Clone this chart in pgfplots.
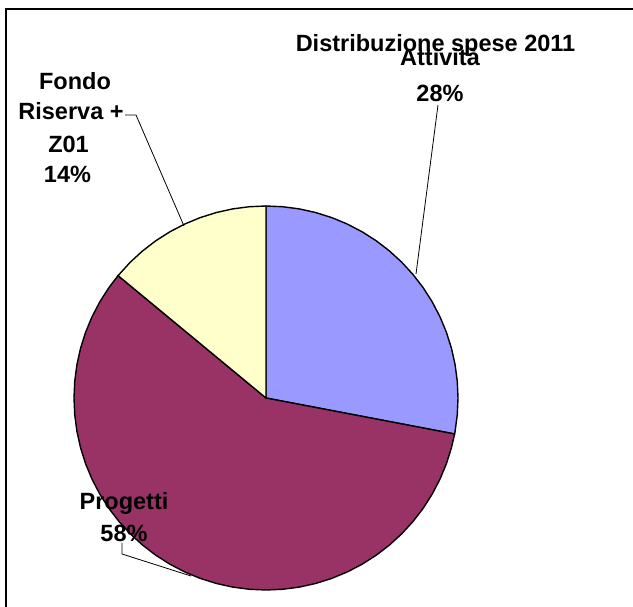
\documentclass[border=0pt]{standalone}
\usepackage{pgfplots}
\pgfplotsset{compat=1.18}
\usepackage{fontspec}
\setmainfont{Liberation Sans}
\definecolor{att}{HTML}{9999FF}
\definecolor{prog}{HTML}{993366}
\definecolor{fondo}{HTML}{FFFFCC}
\tikzset{lbl/.style={font=\fontsize{23.5bp}{28bp}\selectfont\bfseries, inner sep=0pt, anchor=base}}
\begin{document}
\begin{tikzpicture}
\useasboundingbox (0,0) rectangle (633bp,607bp);
\begin{axis}[
  at={(0,0)}, anchor=south west,
  scale only axis, width=633bp, height=607bp,
  xmin=-266, xmax=367, ymin=-209, ymax=398,
  hide axis, clip=false,
]
% Attivita 28%
\addplot[data cs=polar, fill=att, draw=black, line width=1.4bp] coordinates {
(0,0) (90,192) (85,192) (80,192) (75,192) (70,192) (65,192) (60,192) (55,192)
(50,192) (45,192) (40,192) (35,192) (30,192) (25,192) (20,192) (15,192) (10,192)
(5,192) (0,192) (-5,192) (-10,192) (-10.8,192)} -- cycle;
% Progetti 58%
\addplot[data cs=polar, fill=prog, draw=black, line width=1.4bp] coordinates {
(0,0) (-10.8,192) (-15,192) (-20,192) (-25,192) (-30,192) (-35,192) (-40,192)
(-45,192) (-50,192) (-55,192) (-60,192) (-65,192) (-70,192) (-75,192) (-80,192)
(-85,192) (-90,192) (-95,192) (-100,192) (-105,192) (-110,192) (-115,192)
(-120,192) (-125,192) (-130,192) (-135,192) (-140,192) (-145,192) (-150,192)
(-155,192) (-160,192) (-165,192) (-170,192) (-175,192) (-180,192) (-185,192)
(-190,192) (-195,192) (-200,192) (-205,192) (-210,192) (-215,192) (-219.6,192)} -- cycle;
% Fondo Riserva + Z01 14%
\addplot[data cs=polar, fill=fondo, draw=black, line width=1.4bp] coordinates {
(0,0) (140.4,192) (135,192) (130,192) (125,192) (120,192) (115,192) (110,192)
(105,192) (100,192) (95,192) (90,192)} -- cycle;
% leader lines
\addplot[black, line width=0.8bp] coordinates {(-141,283) (-130,283) (-82,172)};
\addplot[black, line width=0.8bp] coordinates {(172,293) (150,124)};
\addplot[black, line width=0.8bp] coordinates {(-144,-145) (-144,-156) (-75,-178)};
% labels
\node[lbl] at (axis cs:169.5,346) {Distribuzione spese 2011};
\node[lbl] at (axis cs:174,332) {Attività};
\node[lbl] at (axis cs:174,296) {28\%};
\node[lbl] at (axis cs:-191,308) {Fondo};
\node[lbl] at (axis cs:-195,278) {Riserva +};
\node[lbl] at (axis cs:-197.5,245) {Z01};
\node[lbl] at (axis cs:-198.5,215) {14\%};
\node[lbl] at (axis cs:-142,-112) {Progetti};
\node[lbl] at (axis cs:-142,-144) {58\%};
\end{axis}
\draw[black, line width=1.5bp] (6bp,0) -- (6bp,598bp) -- (633bp,598bp);
\end{tikzpicture}
\end{document}
